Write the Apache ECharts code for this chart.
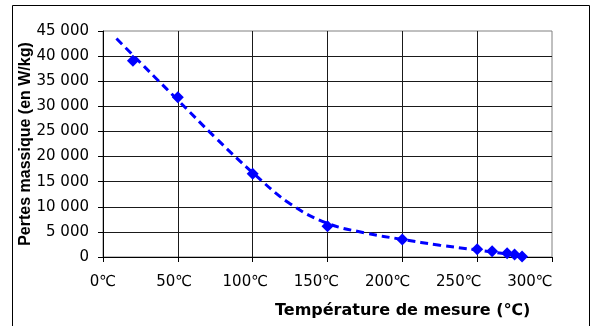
<!DOCTYPE html>
<html>
<head>
<meta charset="utf-8">
<script src="https://cdn.jsdelivr.net/npm/echarts@6/dist/echarts.min.js"></script>
<style>
  html, body { margin: 0; padding: 0; background: #ffffff; }
  #chart { width: 591px; height: 326px; }
</style>
</head>
<body>
<div id="chart"></div>
<script>
// Measured specific losses versus measurement temperature
const tempMeasured = [20, 50, 100, 150, 200, 250, 260, 270, 275, 280];
const lossMeasured = [39100, 31800, 16600, 6100, 3500, 1550, 1150, 750, 500, 100];

// Dashed trend curve through the measurements
const tempTrend = [9, 20, 35, 50, 75, 100, 125, 150, 175, 200, 225, 250, 265, 280];
const lossTrend = [43500, 40200, 35700, 31250, 23800, 16800, 10600, 6700, 4800, 3500, 2350, 1400, 800, 150];

// Axis tick labels
const xTickLabels = ['0℃', '50℃', '100℃', '150℃', '200℃', '250℃', '300℃'];
const yTickLabels = ['0', '5 000', '10 000', '15 000', '20 000', '25 000', '30 000', '35 000', '40 000', '45 000'];

const xTitle = 'Température de mesure (℃)';
const yTitle = 'Pertes massique (en W/kg)';

const measuredPairs = tempMeasured.map((t, i) => [t, lossMeasured[i]]);
const trendPairs = tempTrend.map((t, i) => [t, lossTrend[i]]);

const blue = '#0000ff';
const labelFont = 'DejaVu Sans';

const chart = echarts.init(document.getElementById('chart'), null, { renderer: 'canvas' });
chart.setOption({
  animation: false,
  backgroundColor: '#ffffff',
  grid: {
    left: 103, right: 39, top: 31, bottom: 69,
    containLabel: false,
    outerBoundsMode: 'none',
    show: true,
    borderColor: '#808080',
    borderWidth: 1,
    backgroundColor: 'transparent'
  },
  xAxis: [
    {
      type: 'value',
      min: 0, max: 300, interval: 50,
      axisLine: { show: true, onZero: false, lineStyle: { color: '#000', width: 1 } },
      axisTick: { show: true, inside: false, length: 5, lineStyle: { color: '#000' } },
      axisLabel: { show: false },
      splitLine: { show: true, showMaxLine: false, lineStyle: { color: '#1a1a1a', width: 1 } }
    },
    {
      // label row of the temperature axis
      type: 'value',
      gridIndex: 0,
      position: 'bottom',
      min: 0, max: 315.5, interval: 50,
      axisLine: { show: false },
      axisTick: { show: false },
      splitLine: { show: false },
      axisLabel: {
        show: true,
        margin: 18,
        color: '#000',
        fontFamily: labelFont,
        fontSize: 15,
        showMaxLabel: false,
        formatter: v => (v % 50 === 0 && v <= 300) ? xTickLabels[v / 50] : ''
      }
    }
  ],
  yAxis: {
    type: 'value',
    min: 0, max: 45000, interval: 5000,
    name: yTitle,
    nameLocation: 'middle',
    nameRotate: 90,
    nameGap: 69,
    nameMoveOverlap: false,
    nameTextStyle: {
      fontFamily: 'Liberation Sans',
      fontWeight: 'bold',
      fontSize: 16,
      color: '#000'
    },
    axisLine: { show: true, lineStyle: { color: '#000', width: 1 } },
    axisTick: { show: true, inside: false, length: 5, lineStyle: { color: '#000' } },
    axisLabel: {
      margin: 14,
      color: '#000',
      fontFamily: labelFont,
      fontSize: 15,
      formatter: v => yTickLabels[Math.round(v / 5000)]
    },
    splitLine: { show: true, showMaxLine: false, lineStyle: { color: '#1a1a1a', width: 1 } }
  },
  graphic: [
    {
      type: 'rect',
      silent: true,
      shape: { x: 12.5, y: 5.5, width: 577, height: 330 },
      style: { fill: 'none', stroke: '#000', lineWidth: 1 },
      z: 100
    },
    {
      type: 'text',
      silent: true,
      x: 275,
      y: 303,
      style: {
        text: xTitle,
        fill: '#000',
        font: 'bold 16px "DejaVu Sans"',
        textAlign: 'left',
        textVerticalAlign: 'top'
      },
      z: 100
    }
  ],
  series: [
    {
      name: 'trend',
      type: 'line',
      xAxisIndex: 0,
      data: trendPairs,
      smooth: 0.4,
      showSymbol: false,
      symbol: 'none',
      lineStyle: { color: blue, width: 3, type: [8, 5] },
      z: 3
    },
    {
      name: 'measured',
      type: 'scatter',
      xAxisIndex: 0,
      data: measuredPairs,
      symbol: 'diamond',
      symbolSize: 12,
      itemStyle: { color: blue, opacity: 1 },
      z: 4
    }
  ]
});
</script>
</body>
</html>
